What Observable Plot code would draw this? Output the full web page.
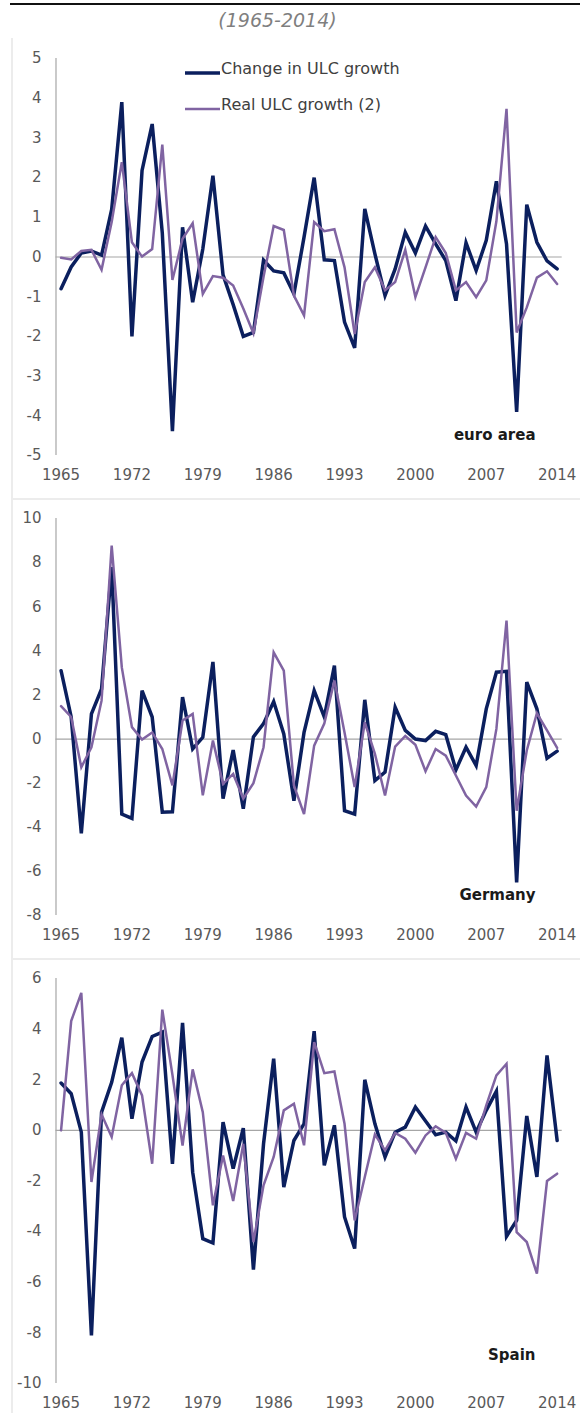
<!DOCTYPE html>
<html>
<head>
<meta charset="utf-8">
<script src="https://cdn.jsdelivr.net/npm/d3@7"></script>
<script src="https://cdn.jsdelivr.net/npm/@observablehq/plot@0.6"></script>
<style>
  body { margin: 0; background: #fff; }
  #wrap { position: relative; width: 580px; height: 1413px; overflow: hidden; font-family: "DejaVu Sans", sans-serif; }
  .abs { position: absolute; }
  .legtxt { font-size: 16px; color: #404040; white-space: nowrap; line-height: 1; }
</style>
</head>
<body>
<div id="wrap"></div>
<script>
// ---- data ----
const years = d3.range(1965, 2015);
const xTicks = [1965, 1972, 1979, 1986, 1993, 2000, 2007, 2014];
const seriesNames = ["Change in ULC growth", "Real ULC growth (2)"];
const title = "(1965-2014)";

const eaChange = [-0.8, -0.25, 0.1, 0.15, 0.05, 1.2, 3.9, -2.0, 2.18, 3.35,
  0.6, -4.39, 0.75, -1.14, 0.2, 2.05, -0.45, -1.2, -2.0, -1.9,
  -0.08, -0.35, -0.4, -0.93, 0.5, 2.0, -0.07, -0.09, -1.64, -2.29,
  1.21, 0.08, -0.97, -0.3, 0.62, 0.1, 0.78, 0.33, -0.09, -1.1,
  0.36, -0.34, 0.42, 1.91, 0.33, -3.9, 1.32, 0.37, -0.1, -0.3];
const eaReal = [-0.02, -0.06, 0.15, 0.18, -0.32, 0.88, 2.39, 0.37, 0.01, 0.2,
  2.83, -0.58, 0.46, 0.85, -0.93, -0.48, -0.52, -0.72, -1.3, -1.92,
  -0.5, 0.78, 0.68, -0.97, -1.47, 0.88, 0.65, 0.7, -0.26, -1.94,
  -0.63, -0.26, -0.84, -0.63, 0.18, -1.01, -0.26, 0.5, 0.1, -0.84,
  -0.63, -1.01, -0.59, 0.9, 3.73, -1.9, -1.27, -0.52, -0.36, -0.68];

const deChange = [3.1, 1.0, -4.27, 1.14, 2.27, 7.8, -3.4, -3.6, 2.2, 1.0,
  -3.32, -3.3, 1.9, -0.45, 0.08, 3.5, -2.7, -0.5, -3.16, 0.1,
  0.7, 1.7, 0.23, -2.8, 0.3, 2.2, 1.0, 3.33, -3.25, -3.4,
  1.78, -1.88, -1.5, 1.44, 0.39, 0.0, -0.07, 0.35, 0.2, -1.4,
  -0.37, -1.2, 1.37, 3.03, 3.07, -6.5, 2.58, 1.37, -0.87, -0.55];
const deReal = [1.49, 1.0, -1.28, -0.37, 1.74, 8.77, 3.25, 0.54, -0.02, 0.3,
  -0.45, -2.1, 0.84, 1.14, -2.55, -0.07, -2.03, -1.58, -2.7, -2.0,
  -0.37, 3.93, 3.1, -2.1, -3.4, -0.3, 0.7, 2.65, 0.3, -2.18,
  0.76, -0.67, -2.56, -0.34, 0.14, -0.26, -1.46, -0.45, -0.75, -1.65,
  -2.56, -3.06, -2.18, 0.46, 5.37, -3.25, -0.52, 1.17, 0.39, -0.4];

const esChange = [1.87, 1.45, -0.07, -8.1, 0.72, 1.9, 3.66, 0.46, 2.7, 3.71,
  3.88, -1.32, 4.25, -1.65, -4.28, -4.45, 0.33, -1.51, 0.09, -5.5,
  -0.53, 2.83, -2.24, -0.4, 0.26, 3.92, -1.38, 0.2, -3.42, -4.67,
  2.0, 0.26, -1.05, -0.07, 0.13, 0.92, 0.37, -0.17, -0.07, -0.42,
  0.92, -0.07, 0.79, 1.55, -4.19, -3.56, 0.57, -1.84, 2.96, -0.4];
const esReal = [0, 4.32, 5.43, -2.04, 0.63, -0.26, 1.78, 2.26, 1.38, -1.32,
  4.77, 2.2, -0.6, 2.41, 0.72, -2.96, -0.99, -2.79, -0.53, -4.41,
  -2.17, -1.05, 0.79, 1.05, -0.59, 3.49, 2.26, 2.33, 0.26, -3.56,
  -1.84, -0.16, -0.79, -0.1, -0.33, -0.88, -0.2, 0.16, -0.1, -1.12,
  -0.1, -0.33, 0.99, 2.17, 2.63, -4.02, -4.41, -5.66, -2.0, -1.71];

const panelLabels = ["euro area", "Germany", "Spain"];
const eaTicks = [5, 4, 3, 2, 1, 0, -1, -2, -3, -4, -5];
const deTicks = [10, 8, 6, 4, 2, 0, -2, -4, -6, -8];
const esTicks = [6, 4, 2, 0, -2, -4, -6, -8, -10];

// ---- styling ----
const NAVY = "#0b1f5e";
const PURPLE = "#8064a2";
const AXIS = "#a6a6a6";
const TXT = "#595959";

function panel(change, real, ticks, label, height, marginBottom, labelDy) {
  const dc = years.map((y, i) => ({year: y, v: change[i]}));
  const dr = years.map((y, i) => ({year: y, v: real[i]}));
  return Plot.plot({
    width: 580,
    height,
    marginTop: 20,
    marginBottom,
    marginLeft: 55.5,
    marginRight: 18.3,
    x: {domain: [1964.5, 2014.5]},
    y: {domain: [d3.min(ticks), d3.max(ticks)]},
    style: {fontFamily: "DejaVu Sans", fontSize: "15px", color: TXT, background: "transparent", overflow: "visible"},
    marks: [
      Plot.ruleY([0], {stroke: AXIS, strokeWidth: 1.2}),
      Plot.ruleX([1964.5], {stroke: AXIS, strokeWidth: 1.2}),
      Plot.axisY({ticks, tickSize: 0, tickPadding: 14.5, tickFormat: d => String(d), fill: TXT, label: null}),
      Plot.axisX({ticks: xTicks, tickSize: 0, tickPadding: 14, tickFormat: d => String(d), fill: TXT, label: null}),
      Plot.line(dc, {x: "year", y: "v", stroke: NAVY, strokeWidth: 3.5, strokeLinejoin: "miter", strokeMiterlimit: 4}),
      Plot.line(dr, {x: "year", y: "v", stroke: PURPLE, strokeWidth: 2.5, strokeLinejoin: "miter", strokeMiterlimit: 4}),
      Plot.text([label], {frameAnchor: "bottom-right", text: d => d, dx: -26.7, dy: labelDy, lineAnchor: "middle",
        fontWeight: "bold", fontSize: 15, fill: "#1a1a1a"})
    ]
  });
}

const wrap = document.getElementById("wrap");
function addDiv(css, html) {
  const d = document.createElement("div");
  d.className = "abs";
  Object.assign(d.style, css);
  if (html !== undefined) d.innerHTML = html;
  wrap.appendChild(d);
  return d;
}

// top rule and title
addDiv({left: "10px", top: "3px", width: "570px", height: "2px", background: "#111"});
addDiv({left: "0px", top: "9px", width: "555px", textAlign: "center", fontStyle: "italic", fontSize: "19px", color: "#7f7f7f"}, title);

const tops = [38, 498, 958];
const heights = [460, 460, 455];
const configs = [
  [eaChange, eaReal, eaTicks, panelLabels[0], 460, 43, -20],
  [deChange, deReal, deTicks, panelLabels[1], 460, 43, -20],
  [esChange, esReal, esTicks, panelLabels[2], 455, 30, -28]
];
configs.forEach((c, k) => {
  // panel frame (light gray)
  addDiv({left: "11px", top: tops[k] + "px", width: "580px", height: heights[k] + "px",
    borderLeft: "2px solid #ececec", borderTop: k > 0 ? "2px solid #ececec" : "none", boxSizing: "border-box"});
  const host = addDiv({left: "0px", top: tops[k] + "px"});
  host.appendChild(panel(...c));
});

// legend
const legY = [68, 104];
const legC = [NAVY, PURPLE];
const legW = [3.5, 2.5];
seriesNames.forEach((name, i) => {
  addDiv({left: "185px", top: (legY[i] - 5) + "px", width: "36px", height: "10px"},
    `<svg width="36" height="10"><line x1="0" x2="35" y1="5" y2="5" stroke="${legC[i]}" stroke-width="${legW[i]}"/></svg>`);
  addDiv({left: "221px", top: (legY[i] - 9) + "px"}, `<span class="legtxt">${name}</span>`);
});
</script>
</body>
</html>
